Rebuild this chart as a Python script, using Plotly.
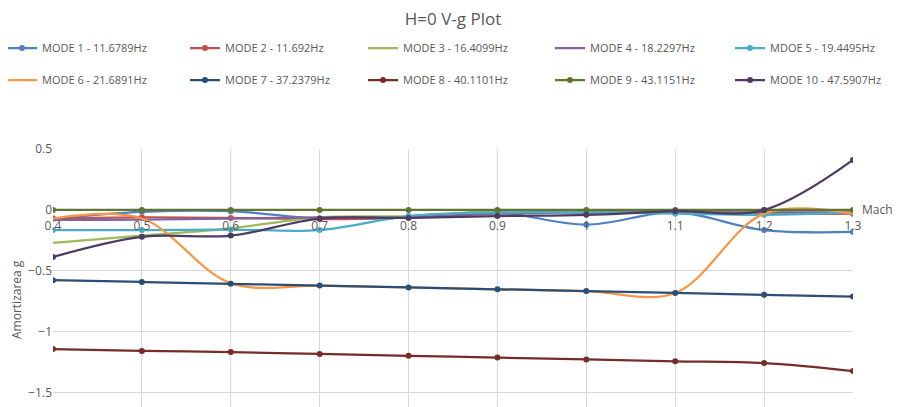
import plotly.graph_objects as go

mach = [0.4, 0.5, 0.6, 0.7, 0.8, 0.9, 1.0, 1.1, 1.2, 1.3]

names = ["MODE 1 - 11.6789Hz", "MODE 2 - 11.692Hz", "MODE 3 - 16.4099Hz",
         "MODE 4 - 18.2297Hz", "MDOE 5 - 19.4495Hz", "MODE 6 - 21.6891Hz",
         "MODE 7 - 37.2379Hz", "MODE 8 - 40.1101Hz", "MODE 9 - 43.1151Hz",
         "MODE 10 - 47.5907Hz"]

mode1 = [-0.07, -0.015, -0.01, -0.07, -0.06, -0.02, -0.12, -0.02, -0.165, -0.18]
mode2 = [-0.07, -0.06, -0.065, -0.075, -0.06, -0.01, -0.02, -0.01, -0.03, -0.03]
mode3 = [-0.27, -0.21, -0.15, -0.06, -0.05, -0.01, -0.01, -0.01, -0.02, -0.02]
mode4 = [-0.08, -0.08, -0.07, -0.06, -0.06, -0.03, -0.02, -0.02, -0.02, -0.02]
mode5 = [-0.165, -0.165, -0.16, -0.165, -0.05, -0.02, -0.02, -0.03, -0.04, -0.02]
mode6 = [-0.07, -0.07, -0.60, -0.62, -0.635, -0.65, -0.665, -0.68, -0.03, -0.03]
mode7 = [-0.575, -0.59, -0.605, -0.62, -0.635, -0.65, -0.665, -0.68, -0.695, -0.71]
mode8 = [-1.14, -1.155, -1.165, -1.18, -1.195, -1.21, -1.225, -1.24, -1.255, -1.32]
mode9 = [0.0, 0.0, 0.0, 0.0, 0.0, 0.0, 0.0, 0.0, 0.0, 0.0]
mode10 = [-0.385, -0.22, -0.21, -0.07, -0.065, -0.05, -0.04, -0.01, 0.0, 0.41]

series = [mode1, mode2, mode3, mode4, mode5, mode6, mode7, mode8, mode9, mode10]
colors = ["#4F81BD", "#C0504D", "#9BBB59", "#8064A2", "#4BACC6",
          "#F79646", "#2C4D75", "#772C2A", "#5F7530", "#4D3B62"]
has_marker = [True, True, False, False, True, False, True, True, True, True]

y_min, y_max = -1.615, 0.5
W, H = 909, 407
OFF = 8  # page body margin offset
ml, mt = 53 - OFF, 149 - OFF
mr = W - (853 - OFF)
mb = OFF
pw = W - ml - mr
ph = H - mt - mb
font = "Open Sans, Liberation Sans, sans-serif"
gray = "#595959"

# legend text start (page px) per column, row centres (page px)
col_text_x = [42, 225, 403, 590, 770]
row_y = [48, 80]

fig = go.Figure()
legends = {}
for i, (vals, nm, col, mk) in enumerate(zip(series, names, colors, has_marker)):
    lkey = "legend" if i == 0 else f"legend{i + 1}"
    fig.add_trace(go.Scatter(
        x=mach, y=vals, name=nm,
        mode="lines+markers" if mk else "lines",
        line=dict(color=col, width=2.25, shape="spline", smoothing=1),
        marker=dict(color=col, size=6),
        legend=lkey,
    ))
    left_fig = col_text_x[i % 5] - 40 - OFF
    legends[lkey] = dict(
        orientation="h", xref="paper", yref="container",
        x=(left_fig - ml) / pw, y=1 - (row_y[i // 5] - OFF) / H,
        xanchor="left", yanchor="middle",
        font=dict(family=font, size=11, color=gray),
        bgcolor="rgba(0,0,0,0)", borderwidth=0,
    )

zero_pos = (0 - y_min) / (y_max - y_min)

fig.update_layout(
    width=W, height=H,
    margin=dict(l=ml, r=mr, t=mt, b=mb, autoexpand=False),
    paper_bgcolor="white", plot_bgcolor="white",
    font=dict(family=font, color=gray),
    showlegend=True,
    title=dict(text="H=0 V-g Plot", x=0.5, xref="paper", y=1 - (19 - OFF) / H,
               yanchor="middle", font=dict(size=17, color=gray, family=font)),
    xaxis=dict(range=[0.4, 1.3], tick0=0.4, dtick=0.1, showgrid=True,
               gridcolor="#D9D9D9", gridwidth=1, zeroline=False,
               anchor="free", position=zero_pos, showline=False,
               ticks="", ticklabelstandoff=7, automargin=False,
               tickfont=dict(size=12, color=gray, family=font)),
    yaxis=dict(range=[y_min, y_max], tick0=0, dtick=0.5, showgrid=True,
               gridcolor="#D9D9D9", gridwidth=1, zeroline=False,
               showline=False, ticks="", automargin=False,
               tickfont=dict(size=12, color=gray, family=font)),
    annotations=[
        dict(text="Mach", xref="paper", yref="y", x=1.0, y=0, xshift=7,
             xanchor="left", yanchor="middle", showarrow=False,
             font=dict(size=12, color=gray, family=font)),
        dict(text="Amortizarea g", xref="paper", yref="paper",
             x=-(ml - 8) / pw, y=(H - mb - (300 - OFF)) / ph,
             xanchor="center", yanchor="middle", textangle=-90, showarrow=False,
             font=dict(size=12, color=gray, family=font)),
    ],
    **legends,
)

fig.write_html("out.html")
